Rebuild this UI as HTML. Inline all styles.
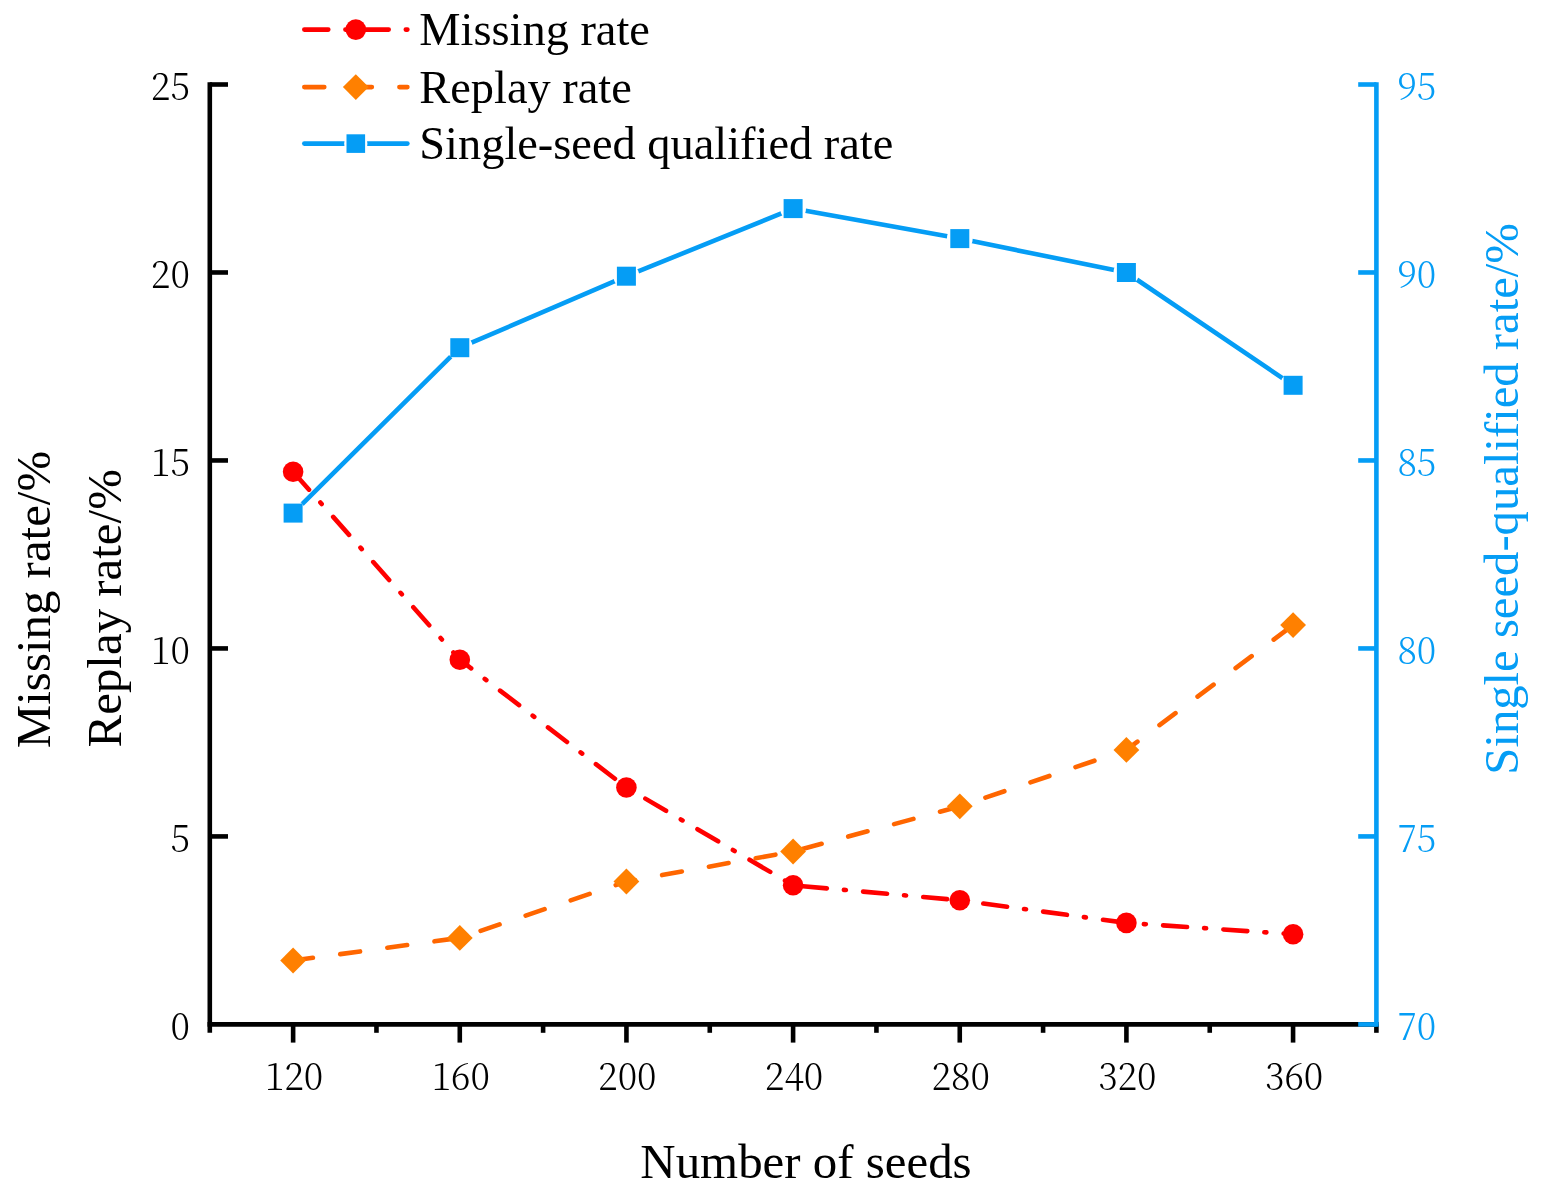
<!DOCTYPE html>
<html lang="en"><head><meta charset="utf-8"><title>Number of seeds chart</title>
<style>html,body{margin:0;padding:0;background:#fff}svg{display:block}</style></head>
<body>
<svg width="1544" height="1202" viewBox="0 0 1544 1202">
<rect width="1544" height="1202" fill="#fff"/>
<g stroke="#000" stroke-width="4.6" fill="none" stroke-linecap="butt">
<path d="M209.8 82.2 V1032.8000000000002"/>
<path d="M207.5 1024.4 H1378.7"/>
<path d="M209.8 836.42 H228.0"/>
<path d="M209.8 648.44 H228.0"/>
<path d="M209.8 460.46 H228.0"/>
<path d="M209.8 272.48 H228.0"/>
<path d="M209.8 84.50 H228.0"/>
<path d="M293.13 1024.4 V1042.6000000000001"/>
<path d="M459.79 1024.4 V1042.6000000000001"/>
<path d="M626.44 1024.4 V1042.6000000000001"/>
<path d="M793.10 1024.4 V1042.6000000000001"/>
<path d="M959.76 1024.4 V1042.6000000000001"/>
<path d="M1126.41 1024.4 V1042.6000000000001"/>
<path d="M1293.07 1024.4 V1042.6000000000001"/>
<path d="M376.46 1024.4 V1032.8000000000002"/>
<path d="M543.11 1024.4 V1032.8000000000002"/>
<path d="M709.77 1024.4 V1032.8000000000002"/>
<path d="M876.43 1024.4 V1032.8000000000002"/>
<path d="M1043.09 1024.4 V1032.8000000000002"/>
<path d="M1209.74 1024.4 V1032.8000000000002"/>
<path d="M1376.40 1024.4 V1032.8000000000002"/>
</g>
<g stroke="#059df5" stroke-width="4.6" fill="none">
<path d="M1376.4 82.2 V1026.7"/>
<path d="M1376.4 1024.40 H1358.2"/>
<path d="M1376.4 836.42 H1358.2"/>
<path d="M1376.4 648.44 H1358.2"/>
<path d="M1376.4 460.46 H1358.2"/>
<path d="M1376.4 272.48 H1358.2"/>
<path d="M1376.4 84.50 H1358.2"/>
</g>
<g font-family="'Noto Serif CJK SC', 'Liberation Serif', serif" font-size="38.6" font-weight="300" fill="#000">
<text transform="translate(189.9 1040.0) scale(0.93 1)" text-anchor="end">0</text>
<text transform="translate(189.9 852.0) scale(0.93 1)" text-anchor="end">5</text>
<text transform="translate(189.9 664.0) scale(0.93 1)" text-anchor="end">10</text>
<text transform="translate(189.9 476.1) scale(0.93 1)" text-anchor="end">15</text>
<text transform="translate(189.9 288.1) scale(0.93 1)" text-anchor="end">20</text>
<text transform="translate(189.9 100.1) scale(0.93 1)" text-anchor="end">25</text>
<text transform="translate(294.1 1090) scale(0.93 1)" text-anchor="middle">120</text>
<text transform="translate(460.8 1090) scale(0.93 1)" text-anchor="middle">160</text>
<text transform="translate(627.4 1090) scale(0.93 1)" text-anchor="middle">200</text>
<text transform="translate(794.1 1090) scale(0.93 1)" text-anchor="middle">240</text>
<text transform="translate(960.8 1090) scale(0.93 1)" text-anchor="middle">280</text>
<text transform="translate(1127.4 1090) scale(0.93 1)" text-anchor="middle">320</text>
<text transform="translate(1294.1 1090) scale(0.93 1)" text-anchor="middle">360</text>
</g>
<g font-family="'Noto Serif CJK SC', 'Liberation Serif', serif" font-size="38.6" font-weight="300" fill="#059df5">
<text transform="translate(1397.4 1040.0) scale(0.93 1)">70</text>
<text transform="translate(1397.4 852.0) scale(0.93 1)">75</text>
<text transform="translate(1397.4 664.0) scale(0.93 1)">80</text>
<text transform="translate(1397.4 476.1) scale(0.93 1)">85</text>
<text transform="translate(1397.4 288.1) scale(0.93 1)">90</text>
<text transform="translate(1397.4 100.1) scale(0.93 1)">95</text>
</g>
<polyline points="293.1,513.1 459.8,347.7 626.4,276.2 793.1,208.6 959.8,238.6 1126.4,272.5 1293.1,385.3" fill="none" stroke="#059df5" stroke-width="4.6" stroke-linejoin="round" stroke-linecap="round"/>
<polyline points="293.1,471.7 459.8,659.7 626.4,787.5 793.1,885.3 959.8,900.3 1126.4,922.9 1293.1,934.2" fill="none" stroke="#ff0000" stroke-width="4.6" stroke-linejoin="round" stroke-linecap="round" stroke-dasharray="24 17.1 2 17.3"/>
<polyline points="293.1,960.5 459.8,937.9 626.4,881.5 793.1,851.5 959.8,806.3 1126.4,749.9 1293.1,625.1" fill="none" stroke="#ff6600" stroke-width="4.6" stroke-linejoin="round" stroke-linecap="round" stroke-dasharray="20 27.55"/>
<circle cx="293.1" cy="513.1" r="12.9" fill="#fff"/>
<circle cx="459.8" cy="347.7" r="12.9" fill="#fff"/>
<circle cx="626.4" cy="276.2" r="12.9" fill="#fff"/>
<circle cx="793.1" cy="208.6" r="12.9" fill="#fff"/>
<circle cx="959.8" cy="238.6" r="12.9" fill="#fff"/>
<circle cx="1126.4" cy="272.5" r="12.9" fill="#fff"/>
<circle cx="1293.1" cy="385.3" r="12.9" fill="#fff"/>
<rect x="283.6" y="503.6" width="19.0" height="19.0" fill="#059df5"/>
<rect x="450.3" y="338.2" width="19.0" height="19.0" fill="#059df5"/>
<rect x="616.9" y="266.7" width="19.0" height="19.0" fill="#059df5"/>
<rect x="783.6" y="199.1" width="19.0" height="19.0" fill="#059df5"/>
<rect x="950.3" y="229.1" width="19.0" height="19.0" fill="#059df5"/>
<rect x="1116.9" y="263.0" width="19.0" height="19.0" fill="#059df5"/>
<rect x="1283.6" y="375.8" width="19.0" height="19.0" fill="#059df5"/>
<circle cx="293.1" cy="471.7" r="10.3" fill="#ff0000"/>
<circle cx="459.8" cy="659.7" r="10.3" fill="#ff0000"/>
<circle cx="626.4" cy="787.5" r="10.3" fill="#ff0000"/>
<circle cx="793.1" cy="885.3" r="10.3" fill="#ff0000"/>
<circle cx="959.8" cy="900.3" r="10.3" fill="#ff0000"/>
<circle cx="1126.4" cy="922.9" r="10.3" fill="#ff0000"/>
<circle cx="1293.1" cy="934.2" r="10.3" fill="#ff0000"/>
<path d="M280.2 960.5 L293.1 947.6 L306.0 960.5 L293.1 973.4Z" fill="#ff8000"/>
<path d="M446.9 937.9 L459.8 925.0 L472.7 937.9 L459.8 950.8Z" fill="#ff8000"/>
<path d="M613.5 881.5 L626.4 868.6 L639.3 881.5 L626.4 894.4Z" fill="#ff8000"/>
<path d="M780.2 851.5 L793.1 838.6 L806.0 851.5 L793.1 864.4Z" fill="#ff8000"/>
<path d="M946.9 806.3 L959.8 793.4 L972.7 806.3 L959.8 819.2Z" fill="#ff8000"/>
<path d="M1113.5 749.9 L1126.4 737.0 L1139.3 749.9 L1126.4 762.8Z" fill="#ff8000"/>
<path d="M1280.2 625.1 L1293.1 612.2 L1306.0 625.1 L1293.1 638.0Z" fill="#ff8000"/>
<g fill="none" stroke-width="4.6" stroke-linecap="round">
<path d="M304.3 29.6 H407.4" stroke="#ff0000" stroke-dasharray="24 17.1 2 17.3"/>
<path d="M304.3 87.1 H407.4" stroke="#ff6600" stroke-dasharray="20 27.55"/>
<path d="M304.3 143.6 H407.4" stroke="#059df5"/>
</g>
<circle cx="355.8" cy="29.6" r="10.3" fill="#ff0000"/>
<path d="M342.9 87.1 L355.8 74.2 L368.7 87.1 L355.8 100.0Z" fill="#ff8000"/>
<circle cx="355.8" cy="143.6" r="11.6" fill="#fff"/>
<rect x="346.5" y="134.29999999999998" width="18.6" height="18.6" fill="#059df5"/>
<g font-family="'Liberation Serif', serif" font-size="46.4" fill="#000">
<text x="419.3" y="45.2">Missing rate</text>
<text x="419.3" y="102.6">Replay rate</text>
<text x="419.3" y="159">Single-seed qualified rate</text>
</g>
<g font-family="'Liberation Serif', serif" font-size="48.9" fill="#000">
<text transform="translate(49.5 748.2) rotate(-90)">Missing rate/%</text>
<text transform="translate(120.9 747.4) rotate(-90)">Replay rate/%</text>
<text x="806" y="1177.5" text-anchor="middle">Number of seeds</text>
</g>
<text font-family="'Liberation Serif', serif" font-size="48.7" fill="#059df5" transform="translate(1518.4 774.7) rotate(-90)">Single seed-qualified rate/%</text>
</svg>
</body></html>
